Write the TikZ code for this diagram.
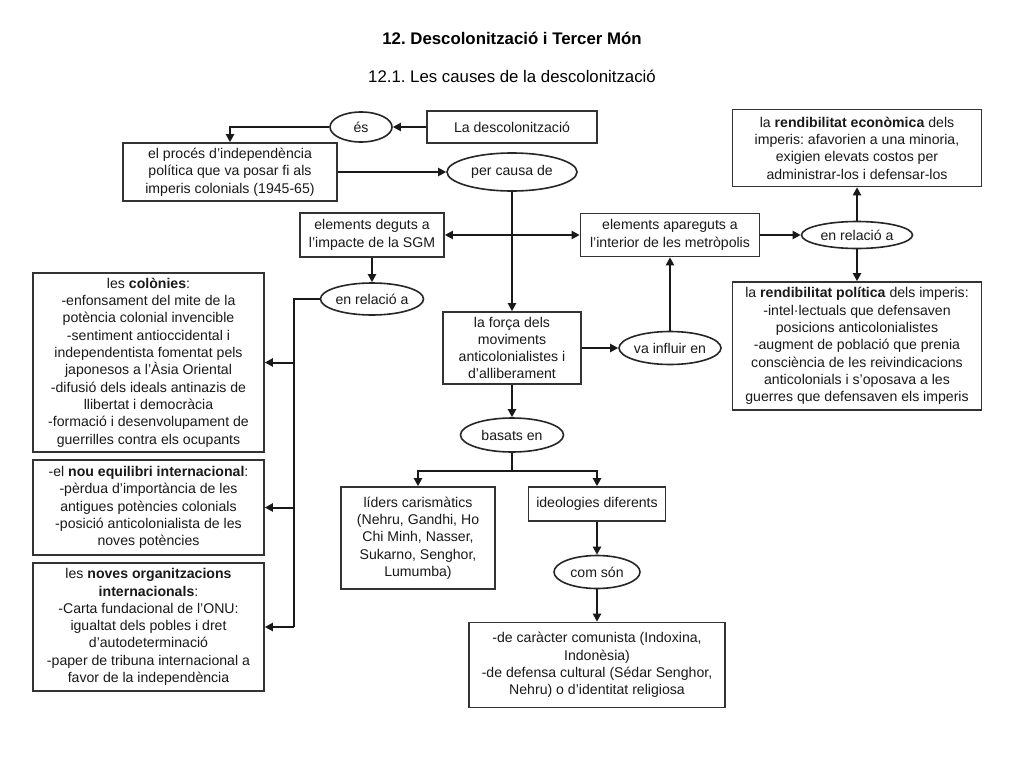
\documentclass[tikz,border=0pt]{standalone}
\usepackage{fontspec}
\setmainfont{Liberation Sans}
\usetikzlibrary{shapes.geometric,arrows.meta}
\frenchspacing
\begin{document}
\begin{tikzpicture}[x=1pt,y=-1pt,
  txt/.style={font=\fontsize{14.1}{17.3}\selectfont, align=center, text=black!90},
  box/.style={txt, draw=black!80, line width=1.6pt, rectangle, inner sep=0pt},
  oval/.style={txt, draw=black!85, line width=1.6pt, ellipse, inner sep=0pt},
  conn/.style={line width=2pt, black!90},
  arr/.style={conn, -{Triangle[length=8pt,width=8pt]}},
  darr/.style={conn, {Triangle[length=8pt,width=8pt]}-{Triangle[length=8pt,width=8pt]}}
]
\useasboundingbox[fill=white] (0,0) rectangle (1024,768);

\node[font=\fontsize{16.8}{19}\selectfont\bfseries] (title) at (512,38) {12. Descolonització i Tercer Món};
\node[font=\fontsize{16.8}{19}\selectfont] (subtitle) at (512,76) {12.1. Les causes de la descolonització};

\node[box, minimum width=170, minimum height=32] (desc) at (512,127) {La descolonització};
\node[oval, minimum width=62, minimum height=30] (es) at (361,127) {és};
\node[box, minimum width=214, minimum height=58] (proces) at (230,172) {el procés d’independència\\política que va posar fi als\\imperis colonials (1945-65)};
\node[oval, minimum width=130, minimum height=38] (causa) at (512,172) {per causa de};
\node[box, minimum width=144, minimum height=44] (deguts) at (372,235) {elements deguts a\\l’impacte de la SGM};
\node[box, minimum width=179, minimum height=43] (apar) at (670,235) {elements apareguts a\\l’interior de les metròpolis};
\node[oval, minimum width=111, minimum height=27] (relR) at (857,235) {en relació a};
\node[box, minimum width=249, minimum height=77] (econ) at (857,148) {la \textbf{rendibilitat econòmica} dels\\imperis: afavorien a una minoria,\\exigien elevats costos per\\administrar-los i defensar-los};
\node[box, minimum width=249, minimum height=128] (polit) at (857,346) {la \textbf{rendibilitat política} dels imperis:\\-intel·lectuals que defensaven\\posicions anticolonialistes\\-augment de població que prenia\\consciència de les reivindicacions\\anticolonials i s’oposava a les\\guerres que defensaven els imperis};
\node[oval, minimum width=94, minimum height=33] (influ) at (670,348) {va influir en};
\node[box, minimum width=138, minimum height=72] (forca) at (512,348) {la força dels\\moviments\\anticolonialistes i\\d’alliberament};
\node[oval, minimum width=103, minimum height=34] (basats) at (512,435) {basats en};
\node[box, minimum width=154, minimum height=102] (lid) at (418,538) {líders carismàtics\\(Nehru, Gandhi, Ho\\Chi Minh, Nasser,\\Sukarno, Senghor,\\Lumumba)};
\node[box, minimum width=137, minimum height=34] (ideo) at (597,504) {ideologies diferents};
\node[oval, minimum width=86, minimum height=33] (com) at (597,572) {com són};
\node[box, minimum width=256, minimum height=85] (final) at (597,665) {-de caràcter comunista (Indoxina,\\Indonèsia)\\-de defensa cultural (Sédar Senghor,\\Nehru) o d’identitat religiosa};
\node[oval, minimum width=94, minimum height=32] (relL) at (372,299) {en relació a};
\node[box, minimum width=231, minimum height=179] (col) at (148.5,362.5) {les \textbf{colònies}:\\-enfonsament del mite de la\\potència colonial invencible\\-sentiment antioccidental i\\independentista fomentat pels\\japonesos a l’Àsia Oriental\\-difusió dels ideals antinazis de\\llibertat i democràcia\\-formació i desenvolupament de\\guerrilles contra els ocupants};
\node[box, minimum width=231, minimum height=95] (nou) at (148.5,507.5) {-el \textbf{nou equilibri internacional}:\\-pèrdua d’importància de les\\antigues potències colonials\\-posició anticolonialista de les\\noves potències};
\node[box, minimum width=231, minimum height=128] (org) at (148.5,627) {les \textbf{noves organitzacions}\\\textbf{internacionals}:\\-Carta fundacional de l’ONU:\\igualtat dels pobles i dret\\d’autodeterminació\\-paper de tribuna internacional a\\favor de la independència};

% connectors
\draw[arr] (desc.west) -- (es.east);
\draw[arr] (es.west) -| (proces.north);
\draw[arr] (proces.east) -- (causa.west);
\draw[arr] (causa.south) -- (forca.north);
\draw[darr] (deguts.east) -- (apar.west);
\draw[arr] (apar.east) -- (relR.west);
\draw[arr] (relR.north) -- (econ.south);
\draw[arr] (relR.south) -- (polit.north);
\draw[arr] (deguts.south) -- (relL.north);
\draw[arr] (forca.east) -- (influ.west);
\draw[arr] (influ.north) -- (apar.south);
\draw[arr] (forca.south) -- (basats.north);
\draw[conn] (basats.south) -- ++(0,18) coordinate (bs);
\draw[arr] (bs) -| (lid.north);
\draw[arr] (bs) -| (ideo.north);
\draw[arr] (ideo.south) -- (com.north);
\draw[arr] (com.south) -- (final.north);
\coordinate (trunk) at (294,299);
\draw[conn] (relL.west) -- (trunk) -- (trunk |- org.east);
\draw[arr] (trunk |- col.east) -- (col.east);
\draw[arr] (trunk |- nou.east) -- (nou.east);
\draw[arr] (trunk |- org.east) -- (org.east);
\end{tikzpicture}
\end{document}
